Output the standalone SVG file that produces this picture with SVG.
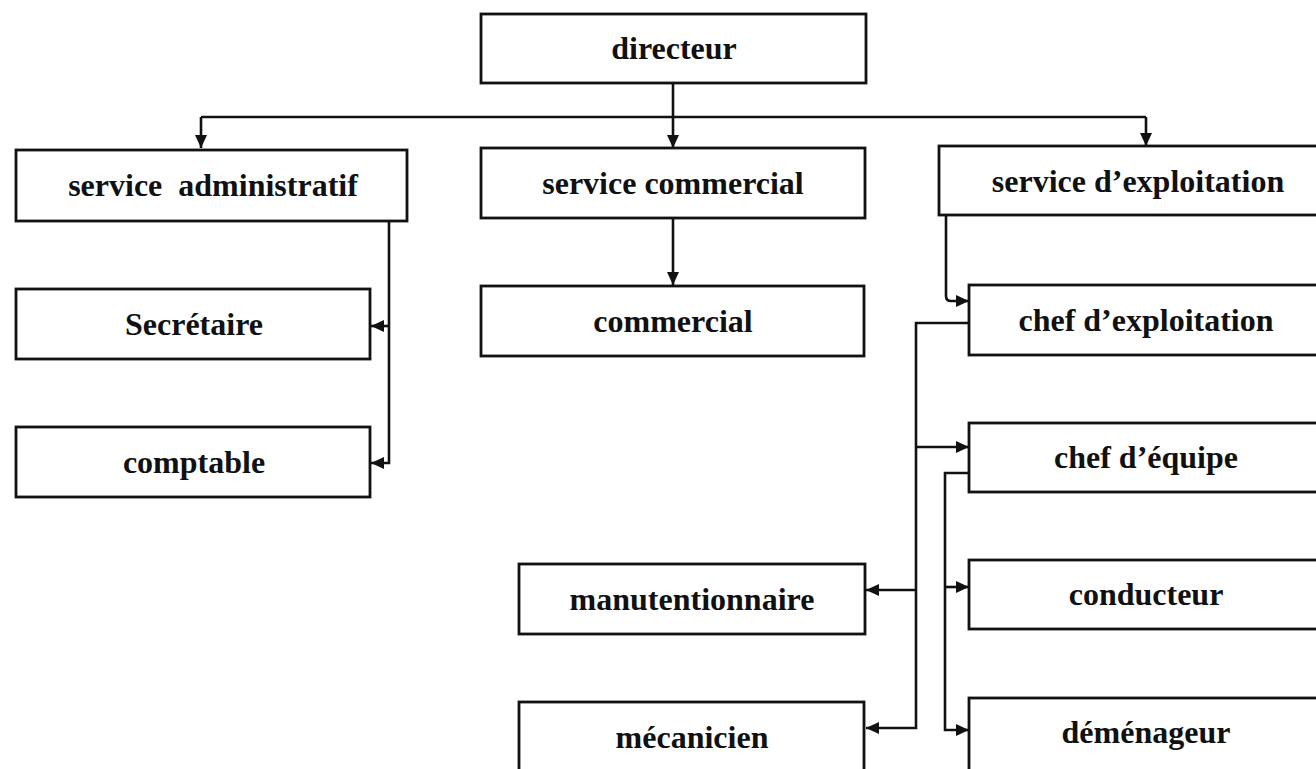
<svg xmlns="http://www.w3.org/2000/svg" width="1316" height="769" viewBox="0 0 1316 769">
<defs>
<style>
.box{fill:#fff;stroke:#111;stroke-width:2.8}
.lbl{font-family:"Liberation Serif","Times New Roman",serif;font-weight:bold;font-size:32px;fill:#111;text-anchor:middle}
.con{fill:none;stroke:#111;stroke-width:2.6}
</style>
<marker id="ah" markerUnits="userSpaceOnUse" markerWidth="14" markerHeight="12" refX="13" refY="6" orient="auto">
<path d="M0,0 L13,6 L0,12 z" fill="#111"/>
</marker>
</defs>
<rect width="1316" height="769" fill="#fff"/>
<g id="connectors">
<path class="con" d="M673,83 V117"/>
<path class="con" d="M201,117 H1146"/>
<path class="con" d="M201,117 V148" marker-end="url(#ah)"/>
<path class="con" d="M673,117 V148" marker-end="url(#ah)"/>
<path class="con" d="M1146,117 V146" marker-end="url(#ah)"/>
<path class="con" d="M673,218 V285" marker-end="url(#ah)"/>
<path class="con" d="M389,222 V463 H371" marker-end="url(#ah)"/>
<path class="con" d="M389,326 H371" marker-end="url(#ah)"/>
<path class="con" d="M946,216 V296 Q946,301 951,301 H969" marker-end="url(#ah)"/>
<path class="con" d="M969,323 H916 V728 H866" marker-end="url(#ah)"/>
<path class="con" d="M916,590 H866" marker-end="url(#ah)"/>
<path class="con" d="M916,447 H969" marker-end="url(#ah)"/>
<path class="con" d="M969,473 H945 V730 H969" marker-end="url(#ah)"/>
<path class="con" d="M945,587 H969" marker-end="url(#ah)"/>
</g>
<g id="directeur"><rect class="box" x="481" y="14" width="385" height="69"/><text class="lbl" x="674" y="59">directeur</text></g>
<g id="service-administratif"><rect class="box" x="16" y="150" width="391" height="71"/><text class="lbl" x="213" y="196" style="white-space:pre" xml:space="preserve">service  administratif</text></g>
<g id="service-commercial"><rect class="box" x="481" y="148" width="384" height="70"/><text class="lbl" x="673" y="194">service commercial</text></g>
<g id="service-exploitation"><rect class="box" x="939" y="146" width="400" height="69"/><text class="lbl" x="1138" y="192">service d’exploitation</text></g>
<g id="secretaire"><rect class="box" x="16" y="289" width="354" height="70"/><text class="lbl" x="194" y="335">Secrétaire</text></g>
<g id="commercial"><rect class="box" x="481" y="286" width="383" height="70"/><text class="lbl" x="673" y="332">commercial</text></g>
<g id="chef-exploitation"><rect class="box" x="969" y="285" width="370" height="70"/><text class="lbl" x="1146" y="331">chef d’exploitation</text></g>
<g id="comptable"><rect class="box" x="16" y="427" width="354" height="70"/><text class="lbl" x="194" y="473">comptable</text></g>
<g id="chef-equipe"><rect class="box" x="969" y="423" width="370" height="69"/><text class="lbl" x="1146" y="468">chef d’équipe</text></g>
<g id="manutentionnaire"><rect class="box" x="519" y="564" width="346" height="70"/><text class="lbl" x="692" y="610">manutentionnaire</text></g>
<g id="conducteur"><rect class="box" x="969" y="560" width="370" height="69"/><text class="lbl" x="1146" y="605">conducteur</text></g>
<g id="mecanicien"><rect class="box" x="519" y="702" width="345" height="80"/><text class="lbl" x="692" y="748">mécanicien</text></g>
<g id="demenageur"><rect class="box" x="969" y="698" width="370" height="80"/><text class="lbl" x="1146" y="743">déménageur</text></g>
</svg>
